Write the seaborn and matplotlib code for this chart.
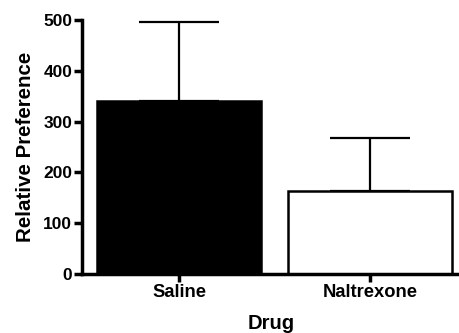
import matplotlib
matplotlib.use("Agg")
import matplotlib.pyplot as plt
import seaborn as sns
import pandas as pd

drugs = ["Saline", "Naltrexone"]
means = [341, 163]
sem = [155, 104]
colors = ["black", "white"]

sns.set_style("ticks")
plt.rcParams['font.family'] = ['Liberation Sans', 'DejaVu Sans']
plt.rcParams['font.weight'] = 'bold'
plt.rcParams['text.color'] = 'black'
plt.rcParams['axes.labelcolor'] = 'black'
plt.rcParams['xtick.color'] = 'black'
plt.rcParams['ytick.color'] = 'black'
plt.rcParams['axes.edgecolor'] = 'black'

fig = plt.figure(figsize=(4.6, 3.33), dpi=100)
ax = fig.add_axes([82/460, 1-274/333, 1-82/460, (274-20)/333])

df = pd.DataFrame({"Drug": drugs, "Pref": means})
sns.barplot(data=df, x="Drug", y="Pref", hue="Drug", palette=colors, legend=False,
            edgecolor="black", linewidth=1.8, width=0.86, errorbar=None, ax=ax, zorder=2)
ax.errorbar(range(len(drugs)), means, yerr=[[0]*len(sem), sem], fmt="none",
            ecolor="black", elinewidth=1.6, capsize=29, capthick=1.6, zorder=1)

ax.set_ylim(0, 500)
ax.set_xlim(-0.51, 1.47)
ax.set_yticks([0, 100, 200, 300, 400, 500])
for s in ["top", "right"]:
    ax.spines[s].set_visible(False)
for s in ["left", "bottom"]:
    ax.spines[s].set_linewidth(2.5)
ax.tick_params(axis="both", width=2.5, length=5.5, labelsize=12.5, pad=1.5, colors="black")
ax.tick_params(axis="x", labelsize=13.2)
for lab in ax.get_xticklabels() + ax.get_yticklabels():
    lab.set_fontweight("bold")
ax.set_xlabel("Drug", fontsize=14.5, fontweight="bold", labelpad=9.5)
ax.set_ylabel("Relative Preference", fontsize=14.8, fontweight="bold", labelpad=6)

fig.savefig("out.png", dpi=100)
